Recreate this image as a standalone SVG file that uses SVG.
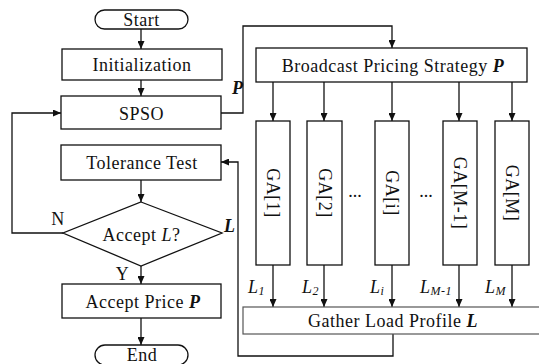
<svg xmlns="http://www.w3.org/2000/svg" width="539" height="364" viewBox="0 0 539 364">
  <defs>
    <marker id="arrow" viewBox="0 0 8 7" refX="8" refY="3.5" markerWidth="8" markerHeight="7" markerUnits="userSpaceOnUse" orient="auto">
      <path d="M0,0 L8,3.5 L0,7 z" fill="#111"/>
    </marker>
    <style>
      .box { fill: #fff; stroke: #111; stroke-width: 1.3; }
      .soft { fill: #fff; stroke: #555; stroke-width: 1.2; }
      .wire { fill: none; stroke: #111; stroke-width: 1.3; }
      .arr { marker-end: url(#arrow); }
      text { font-family: 'Liberation Serif', 'DejaVu Serif', serif; font-size: 18px; fill: #111; letter-spacing: 0.5px; }
      .c { text-anchor: middle; }
      .bi { font-weight: bold; font-style: italic; }
      .it { font-style: italic; }
      .sub { font-size: 12px; font-style: italic; }
    </style>
  </defs>
  <rect width="539" height="364" fill="#fff"/>

  <g id="connectors">
    <line class="wire arr" x1="141" y1="29" x2="141" y2="49"/>
    <line class="wire arr" x1="141" y1="80" x2="141" y2="96"/>
    <line class="wire arr" x1="141" y1="180" x2="141" y2="202"/>
    <line class="wire arr" x1="141" y1="266" x2="141" y2="284"/>
    <line class="wire arr" x1="141" y1="318" x2="141" y2="345"/>
    <!-- N branch back to SPSO -->
    <polyline class="wire arr" points="63,233 12,233 12,113 61,113"/>
    <!-- price strategy to broadcast -->
    <polyline class="wire arr" points="221,113 243,113 243,26 392,26 392,48"/>
    <!-- broadcast to each GA -->
    <line class="wire arr" x1="273" y1="82" x2="273" y2="121"/>
    <line class="wire arr" x1="324" y1="82" x2="324" y2="121"/>
    <line class="wire arr" x1="392" y1="82" x2="392" y2="121"/>
    <line class="wire arr" x1="459" y1="82" x2="459" y2="121"/>
    <line class="wire arr" x1="512" y1="82" x2="512" y2="121"/>
    <!-- GA results to gather -->
    <line class="wire arr" x1="273" y1="265" x2="273" y2="307"/>
    <line class="wire arr" x1="324" y1="265" x2="324" y2="307"/>
    <line class="wire arr" x1="392" y1="265" x2="392" y2="307"/>
    <line class="wire arr" x1="459" y1="265" x2="459" y2="307"/>
    <line class="wire arr" x1="512" y1="265" x2="512" y2="307"/>
    <!-- load profile back to tolerance test -->
    <polyline class="wire arr" points="393,334 393,356 238,356 238,162 221,162"/>
  </g>

  <g id="start">
    <rect class="box" x="95" y="10" width="93" height="19" rx="9.5"/>
    <text class="c" x="141.5" y="26">Start</text>
  </g>
  <g id="initialization">
    <rect class="box" x="62" y="49" width="160" height="31"/>
    <text class="c" x="142" y="71">Initialization</text>
  </g>
  <g id="spso">
    <rect class="box" x="61" y="96" width="160" height="33"/>
    <text class="c" x="141.5" y="120">SPSO</text>
  </g>
  <g id="tolerance-test">
    <rect class="box" x="61" y="145" width="160" height="35"/>
    <text class="c" x="142" y="169">Tolerance Test</text>
  </g>
  <g id="accept-l">
    <polygon class="box" points="141,202 222,233 141,266 63,233"/>
    <text class="c" x="141.5" y="241">Accept <tspan class="it">L</tspan>?</text>
  </g>
  <g id="accept-price">
    <rect class="box" x="62" y="284" width="159" height="34"/>
    <text class="c" x="143" y="308">Accept Price <tspan class="bi">P</tspan></text>
  </g>
  <g id="end">
    <rect class="box" x="95" y="345" width="93" height="20" rx="10"/>
    <text class="c" x="142" y="361">End</text>
  </g>

  <g id="broadcast">
    <rect class="box" x="256" y="48" width="271" height="34"/>
    <text class="c" x="393" y="72">Broadcast Pricing Strategy <tspan class="bi">P</tspan></text>
  </g>

  <g id="ga-1">
    <rect class="box" x="256" y="121" width="34" height="144"/>
    <text class="c" x="273" y="193" dy="6" transform="rotate(90 273 193)">GA[1]</text>
  </g>
  <g id="ga-2">
    <rect class="box" x="307" y="121" width="35" height="144"/>
    <text class="c" x="324.5" y="193" dy="6" transform="rotate(90 324.5 193)">GA[2]</text>
  </g>
  <g id="ga-i">
    <rect class="box" x="375" y="121" width="34" height="144"/>
    <text class="c" x="392" y="193" dy="6" transform="rotate(90 392 193)">GA[i]</text>
  </g>
  <g id="ga-m-1">
    <rect class="box" x="443" y="121" width="34" height="144"/>
    <text class="c" x="460" y="193" dy="6" transform="rotate(90 460 193)">GA[M-1]</text>
  </g>
  <g id="ga-m">
    <rect class="box" x="495" y="121" width="34" height="144"/>
    <text class="c" x="512" y="193" dy="6" transform="rotate(90 512 193)">GA[M]</text>
  </g>

  <g id="gather">
    <rect class="soft" x="243" y="307" width="310" height="27"/>
    <text class="c" x="393" y="327">Gather Load Profile <tspan class="bi">L</tspan></text>
  </g>

  <g id="labels">
    <text x="355" y="197" class="c" style="letter-spacing:0">...</text>
    <text x="426" y="197" class="c" style="letter-spacing:0">...</text>
    <text class="bi" x="232" y="94">P</text>
    <text class="bi" x="224" y="232">L</text>
    <text class="c" x="58" y="225">N</text>
    <text class="c" x="122.5" y="280">Y</text>
    <text class="it" x="248" y="293">L<tspan class="sub" dy="2">1</tspan></text>
    <text class="it" x="302" y="293">L<tspan class="sub" dy="2">2</tspan></text>
    <text class="it" x="370" y="293">L<tspan class="sub" dy="2">i</tspan></text>
    <text class="it" x="420" y="293">L<tspan class="sub" dy="2">M-1</tspan></text>
    <text class="it" x="485" y="293">L<tspan class="sub" dy="2">M</tspan></text>
  </g>
</svg>
